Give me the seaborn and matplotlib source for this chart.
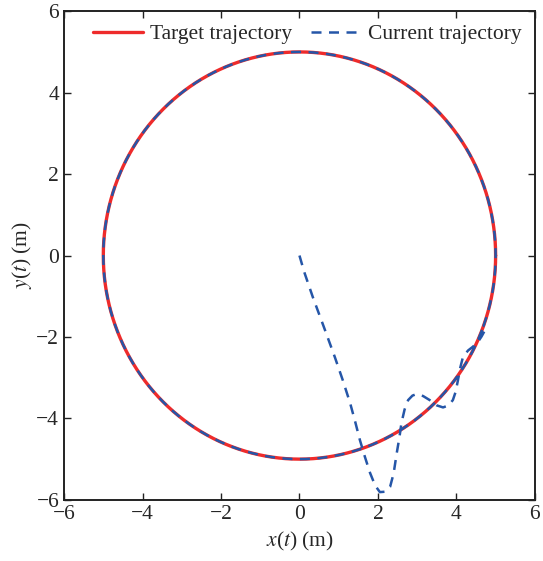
import numpy as np
import pandas as pd
import seaborn as sns
import matplotlib.pyplot as plt

# target: circle of radius 5 (m)
radius = 5.0

# transient part of the current trajectory (m)
cur_x = [0.00, 0.12, 0.34, 0.62, 0.90, 1.10, 1.29, 1.42, 1.54, 1.67, 1.80, 1.93, 2.05,
         2.18, 2.31, 2.40, 2.48, 2.55, 2.60, 2.68, 2.77, 2.88, 2.99, 3.15, 3.32, 3.50,
         3.66, 3.80, 3.91, 3.98, 4.04, 4.10, 4.17, 4.30, 4.42, 4.55, 4.64, 4.72, 4.77]
cur_y = [0.00, -0.40, -1.02, -1.75, -2.49, -3.05, -3.62, -4.08, -4.53, -4.95, -5.34, -5.65, -5.81,
         -5.80, -5.68, -5.35, -4.85, -4.45, -4.11, -3.78, -3.55, -3.44, -3.40, -3.45, -3.55, -3.68,
         -3.73, -3.68, -3.55, -3.35, -3.06, -2.75, -2.48, -2.33, -2.24, -2.12, -1.99, -1.85, -1.75]

theta = np.linspace(0, 2 * np.pi, 721)
target = pd.DataFrame({'x': radius * np.cos(theta), 'y': radius * np.sin(theta)})

# after converging, the current trajectory tracks the circle
a0 = np.arctan2(cur_y[-1], cur_x[-1])
track = np.linspace(a0, a0 + 2 * np.pi, 721)
current = pd.DataFrame({'x': np.r_[cur_x, radius * np.cos(track)],
                        'y': np.r_[cur_y, radius * np.sin(track)]})

sns.set_style('ticks')
plt.rcParams['font.family'] = ['Liberation Serif', 'DejaVu Serif']
plt.rcParams['mathtext.fontset'] = 'stix'

red = '#ee2b2b'
blue = '#2556a8'
fs = 15.5

fig = plt.figure(figsize=(5.43, 5.61), dpi=100)
ax = fig.add_axes([0.118, 0.109, 0.867, 0.871])

sns.lineplot(data=target, x='x', y='y', sort=False, estimator=None, ax=ax,
             color=red, linewidth=2.4, label='Target trajectory')
sns.lineplot(data=current, x='x', y='y', sort=False, estimator=None, ax=ax,
             color=blue, linewidth=1.8, label='Current trajectory')
ax.lines[1].set_dashes((4, 3))

ax.set_xlim(-6, 6)
ax.set_ylim(-6, 6)
ax.set_xticks([-6, -4, -2, 0, 2, 4, 6])
ax.set_yticks([-6, -4, -2, 0, 2, 4, 6])
ax.tick_params(direction='in', top=True, right=True, labelsize=fs, length=5, width=1, color='#222222')
ax.tick_params(axis='x', pad=4)
for s in ax.spines.values():
    s.set_linewidth(1.4)
    s.set_color('#222222')

ax.set_xlabel(r'$x$($t$) (m)', fontsize=fs, labelpad=4)
ax.set_ylabel(r'$y$($t$) (m)', fontsize=fs, labelpad=2)

ax.legend(loc='upper right', ncol=2, frameon=False, fontsize=fs, handlelength=2.35,
          columnspacing=0.9, handletextpad=0.3, borderaxespad=0.2)

fig.savefig('out.png', dpi=100)
